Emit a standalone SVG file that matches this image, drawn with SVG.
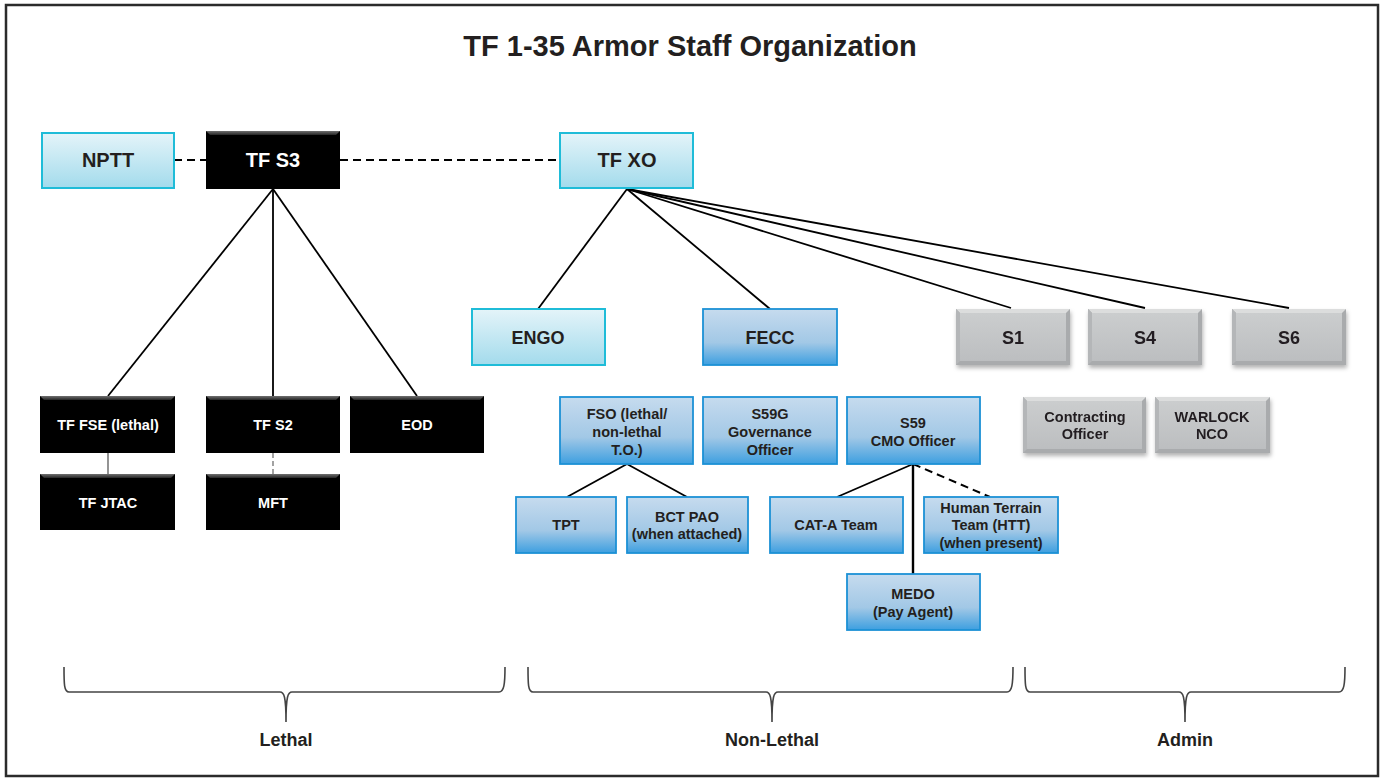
<svg xmlns="http://www.w3.org/2000/svg" width="1382" height="779" viewBox="0 0 1382 779">
  <defs>
    <linearGradient id="cyanFill" x1="0" y1="0" x2="0" y2="1">
      <stop offset="0" stop-color="#e4f4f9"/>
      <stop offset="1" stop-color="#a3dbec"/>
    </linearGradient>
    <linearGradient id="blueFill" x1="0" y1="0" x2="0" y2="1">
      <stop offset="0" stop-color="#c6dbee"/>
      <stop offset="0.6" stop-color="#a2c8e6"/>
      <stop offset="1" stop-color="#3d9fe0"/>
    </linearGradient>
    <linearGradient id="grayFill" x1="0" y1="0" x2="0" y2="1">
      <stop offset="0" stop-color="#cbcdce"/>
      <stop offset="1" stop-color="#bcbec0"/>
    </linearGradient>
    <linearGradient id="blackTop" x1="0" y1="0" x2="0" y2="1">
      <stop offset="0" stop-color="#707070"/>
      <stop offset="1" stop-color="#252525"/>
    </linearGradient>
    <filter id="shadow" x="-10%" y="-20%" width="125%" height="150%">
      <feDropShadow dx="1" dy="3" stdDeviation="2" flood-color="#000" flood-opacity="0.3"/>
    </filter>
    <style>
      text { font-family: "Liberation Sans", Arial, sans-serif; font-weight: bold; text-anchor: middle; fill: #231f20; }
      .title { font-size: 29px; }
      .big { font-size: 20px; }
      .mid { font-size: 18px; }
      .sm { font-size: 14.5px; }
      .lbl { font-size: 18px; }
      .wt { fill: #ffffff; }
      .cyan { fill: url(#cyanFill); stroke: #1fbcd8; stroke-width: 2; }
      .blue { fill: url(#blueFill); stroke: #1c91d5; stroke-width: 1.8; }
      .blk { fill: #000000; }
      .btop { fill: url(#blackTop); }
      .gedge { fill: #a9abad; }
      .glite { fill: #dcdddd; }
      .gside { fill: #b4b6b8; }
      .ginner { fill: url(#grayFill); }
      .line { stroke: #000; stroke-width: 1.8; fill: none; }
      .dash { stroke: #000; stroke-width: 2; stroke-dasharray: 8 5; fill: none; }
      .brace { stroke: #444; stroke-width: 1.6; fill: none; }
    </style>
  </defs>

  <rect x="0" y="0" width="1382" height="779" fill="#ffffff"/>
  <rect x="6" y="5" width="1372" height="771" fill="none" stroke="#2b2b2b" stroke-width="2.5"/>

  <text class="title" x="690" y="56">TF 1-35 Armor Staff Organization</text>

  <!-- connectors -->
  <g id="connectors">
    <line class="dash" x1="174" y1="160" x2="206" y2="160"/>
    <line class="dash" x1="340" y1="160" x2="560" y2="160"/>
    <line class="line" x1="273" y1="189" x2="108" y2="396"/>
    <line class="line" x1="273" y1="189" x2="273" y2="396"/>
    <line class="line" x1="273" y1="189" x2="417" y2="396"/>
    <line class="line" x1="627" y1="189" x2="538" y2="309"/>
    <line class="line" x1="627" y1="189" x2="770" y2="309"/>
    <line class="line" x1="627" y1="189" x2="1011" y2="308"/>
    <line class="line" x1="627" y1="189" x2="1145" y2="308"/>
    <line class="line" x1="627" y1="189" x2="1289" y2="308"/>
    <line x1="108" y1="453" x2="108" y2="474" stroke="#888" stroke-width="1.8"/>
    <line x1="273" y1="453" x2="273" y2="474" stroke="#999" stroke-width="1.8" stroke-dasharray="5 3"/>
    <line class="line" x1="627" y1="464" x2="567" y2="497"/>
    <line class="line" x1="627" y1="464" x2="687" y2="497"/>
    <line class="line" x1="913" y1="464" x2="837" y2="497"/>
    <line x1="913" y1="464" x2="913" y2="574" stroke="#000" stroke-width="2.4"/>
    <line class="dash" x1="913" y1="464" x2="990" y2="497" stroke-width="1.8"/>
  </g>

  <!-- top row -->
  <g id="nptt">
    <rect class="cyan" x="42" y="133" width="132" height="55"/>
    <text class="big" x="108" y="167">NPTT</text>
  </g>
  <g id="tf-s3">
    <rect class="blk" x="206" y="131" width="134" height="58"/>
    <polygon class="btop" points="206,131 340,131 336,135 210,135"/>
    <text class="big wt" x="273" y="167">TF S3</text>
  </g>
  <g id="tf-xo">
    <rect class="cyan" x="560" y="133" width="133" height="55"/>
    <text class="big" x="627" y="167">TF XO</text>
  </g>

  <!-- XO branch -->
  <g id="engo">
    <rect class="cyan" x="472" y="309" width="133" height="56"/>
    <text class="mid" x="538" y="344">ENGO</text>
  </g>
  <g id="fecc">
    <rect class="blue" x="703" y="309" width="134" height="56"/>
    <text class="mid" x="770" y="344">FECC</text>
  </g>
  <g id="s1" filter="url(#shadow)">
    <rect class="gedge" x="956" y="309" width="114" height="56"/>
    <polygon class="glite" points="956,309 1070,309 1066,313 960,313"/>
    <polygon class="gside" points="956,309 960,313 960,361 956,365"/>
    <rect class="ginner" x="960" y="313" width="106" height="48"/>
    <text class="mid" x="1013" y="344">S1</text>
  </g>
  <g id="s4" filter="url(#shadow)">
    <rect class="gedge" x="1088" y="309" width="114" height="56"/>
    <polygon class="glite" points="1088,309 1202,309 1198,313 1092,313"/>
    <polygon class="gside" points="1088,309 1092,313 1092,361 1088,365"/>
    <rect class="ginner" x="1092" y="313" width="106" height="48"/>
    <text class="mid" x="1145" y="344">S4</text>
  </g>
  <g id="s6" filter="url(#shadow)">
    <rect class="gedge" x="1232" y="309" width="114" height="56"/>
    <polygon class="glite" points="1232,309 1346,309 1342,313 1236,313"/>
    <polygon class="gside" points="1232,309 1236,313 1236,361 1232,365"/>
    <rect class="ginner" x="1236" y="313" width="106" height="48"/>
    <text class="mid" x="1289" y="344">S6</text>
  </g>

  <!-- S3 branch -->
  <g id="tf-fse">
    <rect class="blk" x="40" y="396" width="135" height="57"/>
    <polygon class="btop" points="40,396 175,396 171,400 44,400"/>
    <text class="sm wt" x="108" y="430">TF FSE (lethal)</text>
  </g>
  <g id="tf-s2">
    <rect class="blk" x="206" y="396" width="134" height="57"/>
    <polygon class="btop" points="206,396 340,396 336,400 210,400"/>
    <text class="sm wt" x="273" y="430">TF S2</text>
  </g>
  <g id="eod">
    <rect class="blk" x="350" y="396" width="134" height="57"/>
    <polygon class="btop" points="350,396 484,396 480,400 354,400"/>
    <text class="sm wt" x="417" y="430">EOD</text>
  </g>
  <g id="tf-jtac">
    <rect class="blk" x="40" y="474" width="135" height="56"/>
    <polygon class="btop" points="40,474 175,474 171,478 44,478"/>
    <text class="sm wt" x="108" y="508">TF JTAC</text>
  </g>
  <g id="mft">
    <rect class="blk" x="206" y="474" width="134" height="56"/>
    <polygon class="btop" points="206,474 340,474 336,478 210,478"/>
    <text class="sm wt" x="273" y="508">MFT</text>
  </g>

  <!-- non-lethal staff -->
  <g id="fso">
    <rect class="blue" x="560" y="397" width="133" height="67"/>
    <text class="sm" x="627" y="419">FSO (lethal/</text>
    <text class="sm" x="627" y="437">non-lethal</text>
    <text class="sm" x="627" y="455">T.O.)</text>
  </g>
  <g id="s59g">
    <rect class="blue" x="703" y="397" width="134" height="67"/>
    <text class="sm" x="770" y="419">S59G</text>
    <text class="sm" x="770" y="437">Governance</text>
    <text class="sm" x="770" y="455">Officer</text>
  </g>
  <g id="s59">
    <rect class="blue" x="847" y="397" width="133" height="67"/>
    <text class="sm" x="913" y="428">S59</text>
    <text class="sm" x="913" y="446">CMO Officer</text>
  </g>
  <g id="tpt">
    <rect class="blue" x="516" y="497" width="100" height="56"/>
    <text class="sm" x="566" y="530">TPT</text>
  </g>
  <g id="bct-pao">
    <rect class="blue" x="627" y="497" width="121" height="56"/>
    <text class="sm" x="687" y="522">BCT PAO</text>
    <text class="sm" x="687" y="539">(when attached)</text>
  </g>
  <g id="cat-a">
    <rect class="blue" x="770" y="497" width="133" height="56"/>
    <text class="sm" x="836" y="530">CAT-A Team</text>
  </g>
  <g id="htt">
    <rect class="blue" x="924" y="497" width="134" height="56"/>
    <text class="sm" x="991" y="513">Human Terrain</text>
    <text class="sm" x="991" y="530">Team (HTT)</text>
    <text class="sm" x="991" y="548">(when present)</text>
  </g>
  <g id="medo">
    <rect class="blue" x="847" y="574" width="133" height="56"/>
    <text class="sm" x="913" y="599">MEDO</text>
    <text class="sm" x="913" y="617">(Pay Agent)</text>
  </g>

  <!-- admin staff -->
  <g id="contracting" filter="url(#shadow)">
    <rect class="gedge" x="1023" y="397" width="123" height="56"/>
    <polygon class="glite" points="1023,397 1146,397 1142,401 1027,401"/>
    <polygon class="gside" points="1023,397 1027,401 1027,449 1023,453"/>
    <rect class="ginner" x="1027" y="401" width="115" height="48"/>
    <text class="sm" x="1085" y="422">Contracting</text>
    <text class="sm" x="1085" y="439">Officer</text>
  </g>
  <g id="warlock" filter="url(#shadow)">
    <rect class="gedge" x="1155" y="397" width="115" height="56"/>
    <polygon class="glite" points="1155,397 1270,397 1266,401 1159,401"/>
    <polygon class="gside" points="1155,397 1159,401 1159,449 1155,453"/>
    <rect class="ginner" x="1159" y="401" width="107" height="48"/>
    <text class="sm" x="1212" y="422">WARLOCK</text>
    <text class="sm" x="1212" y="439">NCO</text>
  </g>

  <!-- grouping braces -->
  <g id="brace-lethal">
    <path class="brace" d="M64,667 C64,684 64,692 69,692 L280,692 C284,692 286,696 286,722 C286,696 288,692 292,692 L499,692 C504,692 505,684 505,667"/>
    <text class="lbl" x="286" y="746">Lethal</text>
  </g>
  <g id="brace-nonlethal">
    <path class="brace" d="M528,667 C528,684 528,692 533,692 L766,692 C770,692 772,696 772,722 C772,696 774,692 778,692 L1007,692 C1012,692 1013,684 1013,667"/>
    <text class="lbl" x="772" y="746">Non-Lethal</text>
  </g>
  <g id="brace-admin">
    <path class="brace" d="M1025,667 C1025,684 1025,692 1030,692 L1179,692 C1183,692 1185,696 1185,722 C1185,696 1187,692 1191,692 L1339,692 C1344,692 1345,684 1345,667"/>
    <text class="lbl" x="1185" y="746">Admin</text>
  </g>
</svg>
